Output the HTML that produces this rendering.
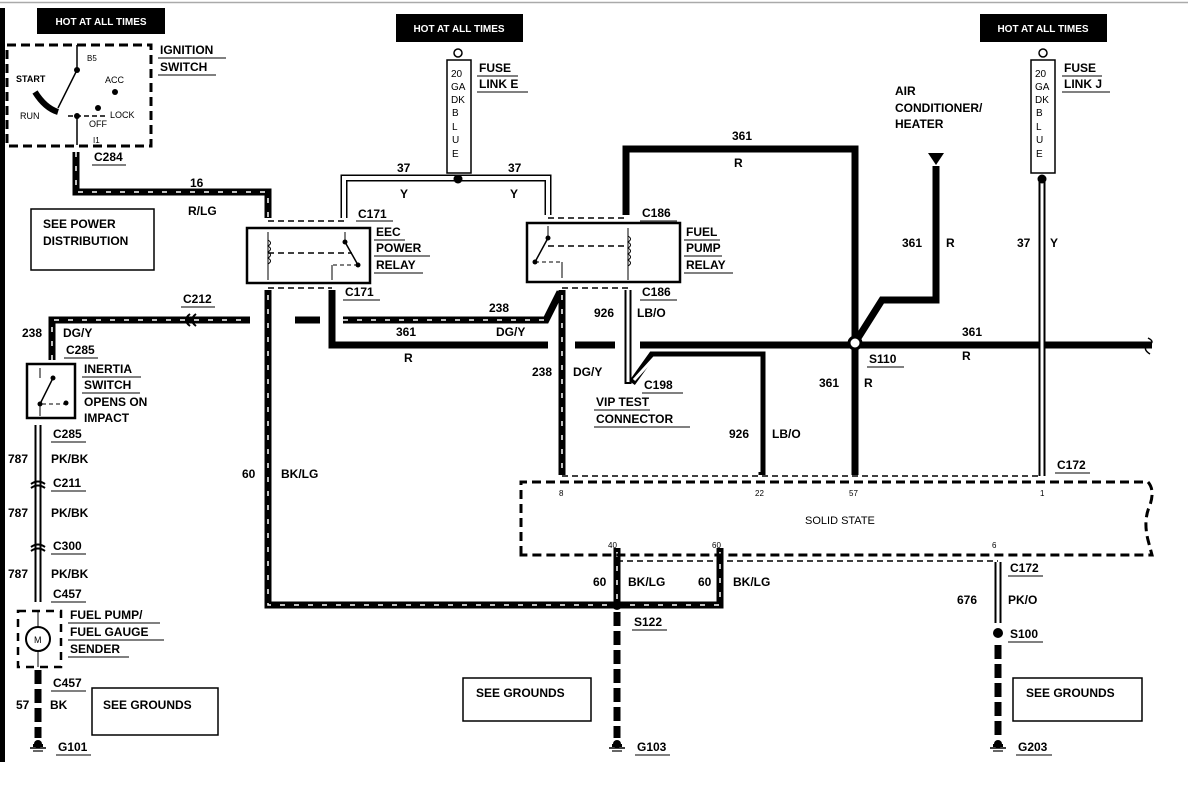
<!DOCTYPE html>
<html><head><meta charset="utf-8"><style>
html,body{margin:0;padding:0;background:#fff;}
svg{display:block;}
text{font-family:"Liberation Sans",Arial,sans-serif;font-weight:bold;fill:#000;}
.s{font-size:12px;}
.t{font-size:8px;font-weight:normal;}
</style></head><body>
<svg width="1188" height="801" viewBox="0 0 1188 801" xmlns="http://www.w3.org/2000/svg">
<defs>
<g id="gnd"><circle cx="0" cy="-3" r="4" fill="#000"/><rect x="-5" y="-3" width="10" height="3" fill="#000"/><line x1="-8" y1="1" x2="8" y2="1" stroke="#000" stroke-width="1.5"/><line x1="-5" y1="4" x2="5" y2="4" stroke="#000" stroke-width="1.2"/></g>
</defs>
<line x1="0" y1="2.5" x2="1188" y2="2.5" stroke="#aaa" stroke-width="1.5"/>
<rect x="0" y="8" width="5" height="754" fill="#000"/>

<rect x="37" y="8" width="128" height="26" fill="#000"/><text x="101" y="25" style="fill:#fff;font-size:10px" text-anchor="middle">HOT AT ALL TIMES</text>
<rect x="396" y="14" width="127" height="28" fill="#000"/><text x="459" y="32" style="fill:#fff;font-size:10px" text-anchor="middle">HOT AT ALL TIMES</text>
<rect x="980" y="14" width="127" height="28" fill="#000"/><text x="1043" y="32" style="fill:#fff;font-size:10px" text-anchor="middle">HOT AT ALL TIMES</text>

<rect x="7" y="45" width="144" height="101" fill="none" stroke="#000" stroke-width="3" stroke-dasharray="9 5"/>
<text x="160" y="54" class="s">IGNITION</text><line x1="158" y1="58" x2="226" y2="58" stroke="#000"/>
<text x="160" y="71" class="s">SWITCH</text><line x1="158" y1="75" x2="216" y2="75" stroke="#000"/>
<line x1="77" y1="45" x2="77" y2="70" stroke="#000" stroke-width="1.5"/><circle cx="77" cy="70" r="3" fill="#000"/>
<line x1="77" y1="70" x2="58" y2="108" stroke="#000" stroke-width="1.5"/>
<path d="M35 92 Q45 108 58 112" stroke="#000" stroke-width="6" fill="none"/>
<line x1="68" y1="116" x2="105" y2="116" stroke="#000" stroke-width="1.5" stroke-dasharray="5 3"/>
<circle cx="77" cy="116" r="3" fill="#000"/><line x1="77" y1="116" x2="77" y2="145" stroke="#000" stroke-width="1.5"/>
<circle cx="98" cy="108" r="3" fill="#000"/><circle cx="115" cy="92" r="3" fill="#000"/>
<text x="87" y="61" class="t">B5</text><text x="16" y="82" style="font-size:9px">START</text>
<text x="105" y="83" class="t" style="font-size:9px">ACC</text><text x="20" y="119" class="t" style="font-size:9px">RUN</text>
<text x="89" y="127" class="t" style="font-size:9px">OFF</text><text x="110" y="118" class="t" style="font-size:9px">LOCK</text>
<text x="93" y="143" class="t">I1</text>
<text x="94" y="161" class="s">C284</text><line x1="92" y1="165" x2="126" y2="165" stroke="#000"/>

<path d="M76 152 L76 192 L268 192 L268 218" fill="none" stroke="#000" stroke-width="7"/>
<path d="M76 152 L76 192 L268 192 L268 218" fill="none" stroke="#fff" stroke-width="1.5" stroke-dasharray="5 9"/>
<text x="190" y="187" class="s">16</text><text x="188" y="215" class="s">R/LG</text>
<rect x="31" y="209" width="123" height="61" fill="none" stroke="#000" stroke-width="1.5"/>
<text x="43" y="228" class="s">SEE POWER</text><text x="43" y="245" class="s">DISTRIBUTION</text>

<line x1="268" y1="221" x2="345" y2="221" stroke="#000" stroke-width="1.5" stroke-dasharray="6 4"/>
<rect x="247" y="228" width="123" height="55" fill="none" stroke="#000" stroke-width="2.5"/>
<line x1="268" y1="232" x2="268" y2="280" stroke="#000"/><path d="M268 240 q5 3 0 6 q5 3 0 6 q5 3 0 6 q5 3 0 6" fill="none" stroke="#000"/>
<line x1="268" y1="253" x2="352" y2="253" stroke="#000" stroke-width="1.5" stroke-dasharray="6 4"/>
<line x1="345" y1="232" x2="345" y2="242" stroke="#000"/><circle cx="345" cy="242" r="2.5" fill="#000"/><line x1="345" y1="242" x2="358" y2="265" stroke="#000" stroke-width="1.5"/><circle cx="358" cy="265" r="2.5" fill="#000"/>
<line x1="333" y1="265" x2="358" y2="265" stroke="#000" stroke-dasharray="4 3"/><line x1="332" y1="265" x2="332" y2="280" stroke="#000"/>
<text x="358" y="218" class="s">C171</text><line x1="356" y1="221" x2="393" y2="221" stroke="#000"/>
<text x="376" y="236" class="s">EEC</text><line x1="374" y1="240" x2="405" y2="240" stroke="#000"/>
<text x="376" y="252" class="s">POWER</text><line x1="374" y1="256" x2="430" y2="256" stroke="#000"/>
<text x="376" y="269" class="s">RELAY</text><line x1="374" y1="273" x2="423" y2="273" stroke="#000"/>
<line x1="268" y1="288" x2="332" y2="288" stroke="#000" stroke-width="1.5" stroke-dasharray="6 4"/>
<text x="345" y="296" class="s">C171</text><line x1="343" y1="300" x2="380" y2="300" stroke="#000"/>

<circle cx="458" cy="53" r="4" fill="none" stroke="#000" stroke-width="1.5"/>
<rect x="447" y="60" width="24" height="113" fill="#fff" stroke="#000" stroke-width="1.5"/>
<text x="451" y="77" class="t" style="font-size:10px">20</text><text x="451" y="90" class="t" style="font-size:10px">GA</text><text x="451" y="103" class="t" style="font-size:10px">DK</text><text x="452" y="116" class="t" style="font-size:10px">B</text><text x="452" y="130" class="t" style="font-size:10px">L</text><text x="452" y="143" class="t" style="font-size:10px">U</text><text x="452" y="157" class="t" style="font-size:10px">E</text>
<text x="479" y="72" class="s">FUSE</text><line x1="477" y1="76" x2="518" y2="76" stroke="#000"/>
<text x="479" y="88" class="s">LINK E</text><line x1="477" y1="92" x2="528" y2="92" stroke="#000"/>
<path d="M344 218 L344 178 L548 178 L548 215" fill="none" stroke="#000" stroke-width="7"/>
<path d="M344 218 L344 178 L548 178 L548 215" fill="none" stroke="#fff" stroke-width="4"/>
<circle cx="458" cy="179" r="4.5" fill="#000"/>
<text x="397" y="172" class="s">37</text><text x="400" y="198" class="s">Y</text>
<text x="508" y="172" class="s">37</text><text x="510" y="198" class="s">Y</text>

<line x1="548" y1="218" x2="628" y2="218" stroke="#000" stroke-width="1.5" stroke-dasharray="6 4"/>
<rect x="527" y="223" width="153" height="59" fill="none" stroke="#000" stroke-width="2.5"/>
<line x1="548" y1="226" x2="548" y2="238" stroke="#000"/><circle cx="548" cy="238" r="2.5" fill="#000"/><line x1="548" y1="238" x2="535" y2="262" stroke="#000" stroke-width="1.5"/><circle cx="535" cy="262" r="2.5" fill="#000"/>
<line x1="535" y1="262" x2="562" y2="262" stroke="#000" stroke-dasharray="4 3"/><line x1="562" y1="262" x2="562" y2="278" stroke="#000"/>
<line x1="548" y1="246" x2="628" y2="246" stroke="#000" stroke-width="1.5" stroke-dasharray="6 4"/>
<line x1="628" y1="228" x2="628" y2="280" stroke="#000"/><path d="M628 236 q5 3 0 6 q5 3 0 6 q5 3 0 6 q5 3 0 6 q5 3 0 6" fill="none" stroke="#000"/>
<text x="642" y="217" class="s">C186</text><line x1="640" y1="221" x2="677" y2="221" stroke="#000"/>
<text x="686" y="236" class="s">FUEL</text><line x1="684" y1="240" x2="720" y2="240" stroke="#000"/>
<text x="686" y="252" class="s">PUMP</text><line x1="684" y1="256" x2="722" y2="256" stroke="#000"/>
<text x="686" y="269" class="s">RELAY</text><line x1="684" y1="273" x2="733" y2="273" stroke="#000"/>
<line x1="562" y1="288" x2="628" y2="288" stroke="#000" stroke-width="1.5" stroke-dasharray="6 4"/>
<text x="642" y="296" class="s">C186</text><line x1="640" y1="300" x2="677" y2="300" stroke="#000"/>

<path d="M626 215 L626 149 L855 149 L855 475" fill="none" stroke="#000" stroke-width="7"/>
<text x="732" y="140" class="s">361</text><text x="734" y="167" class="s">R</text>
<path d="M332 290 L332 345 L548 345 M575 345 L615 345 M640 345 L1152 345" fill="none" stroke="#000" stroke-width="7"/>
<path d="M1148 338 q8 4 0 7 q-6 4 2 9" fill="none" stroke="#000" stroke-width="1.5"/>
<circle cx="855" cy="343" r="6" fill="#fff" stroke="#000" stroke-width="3"/>
<path d="M858 338 L882 300 L936 300 L936 166" fill="none" stroke="#000" stroke-width="7"/>
<polygon points="928,153 944,153 936,165" fill="#000"/>
<text x="895" y="95" class="s">AIR</text><text x="895" y="112" class="s">CONDITIONER/</text><text x="895" y="128" class="s">HEATER</text>
<text x="902" y="247" class="s">361</text><text x="946" y="247" class="s">R</text>
<text x="396" y="336" class="s">361</text><text x="404" y="362" class="s">R</text>
<text x="962" y="336" class="s">361</text><text x="962" y="360" class="s">R</text>
<text x="869" y="363" class="s">S110</text><line x1="867" y1="367" x2="904" y2="367" stroke="#000"/>
<text x="819" y="387" class="s">361</text><text x="864" y="387" class="s">R</text>

<circle cx="1043" cy="53" r="4" fill="none" stroke="#000" stroke-width="1.5"/>
<rect x="1031" y="60" width="24" height="113" fill="#fff" stroke="#000" stroke-width="1.5"/>
<text x="1035" y="77" class="t" style="font-size:10px">20</text><text x="1035" y="90" class="t" style="font-size:10px">GA</text><text x="1035" y="103" class="t" style="font-size:10px">DK</text><text x="1036" y="116" class="t" style="font-size:10px">B</text><text x="1036" y="130" class="t" style="font-size:10px">L</text><text x="1036" y="143" class="t" style="font-size:10px">U</text><text x="1036" y="157" class="t" style="font-size:10px">E</text>
<text x="1064" y="72" class="s">FUSE</text><line x1="1062" y1="76" x2="1102" y2="76" stroke="#000"/>
<text x="1064" y="88" class="s">LINK J</text><line x1="1062" y1="92" x2="1110" y2="92" stroke="#000"/>
<line x1="1042" y1="178" x2="1042" y2="476" stroke="#000" stroke-width="7"/>
<line x1="1042" y1="178" x2="1042" y2="476" stroke="#fff" stroke-width="3"/>
<circle cx="1042" cy="179" r="4.5" fill="#000"/>
<text x="1017" y="247" class="s">37</text><text x="1050" y="247" class="s">Y</text>

<g fill="none" stroke="#000" stroke-width="7">
<path d="M52 360 L52 320 L250 320"/><path d="M295 320 L320 320"/><path d="M343 320 L546 320 L560 292"/>
<path d="M562 290 L562 475"/>
<path d="M268 290 L268 605 L617 605 M617 605 L720 605 L720 548"/>
<path d="M617 548 L617 605"/>
</g>
<g fill="none" stroke="#fff" stroke-width="1.5" stroke-dasharray="5 9">
<path d="M52 360 L52 320 L250 320"/><path d="M343 320 L546 320"/>
<path d="M562 295 L562 472"/><path d="M268 295 L268 605 L720 605 L720 552"/><path d="M617 552 L617 600"/>
</g>
<path d="M196 314 q-8 6 0 12 M190 314 q-8 6 0 12" fill="none" stroke="#000" stroke-width="2"/>
<text x="183" y="303" class="s">C212</text><line x1="181" y1="307" x2="215" y2="307" stroke="#000"/>
<text x="489" y="312" class="s">238</text><text x="496" y="336" class="s">DG/Y</text>
<text x="22" y="337" class="s">238</text><text x="63" y="337" class="s">DG/Y</text>
<text x="66" y="354" class="s">C285</text><line x1="64" y1="358" x2="98" y2="358" stroke="#000"/>
<text x="532" y="376" class="s">238</text><text x="573" y="376" class="s">DG/Y</text>
<text x="242" y="478" class="s">60</text><text x="281" y="478" class="s">BK/LG</text>

<g fill="none" stroke="#000" stroke-width="7"><path d="M628 290 L628 384"/><path d="M632 383 L652 355 L762 355 L762 475"/></g>
<g fill="none" stroke="#fff" stroke-width="3"><path d="M628 290 L628 382"/><path d="M634 380 L654 358 L759 358 L759 472"/></g>
<text x="594" y="317" class="s">926</text><text x="637" y="317" class="s">LB/O</text>
<text x="644" y="389" class="s">C198</text><line x1="642" y1="393" x2="683" y2="393" stroke="#000"/>
<text x="596" y="406" class="s">VIP TEST</text><line x1="594" y1="410" x2="650" y2="410" stroke="#000"/>
<text x="596" y="423" class="s">CONNECTOR</text><line x1="594" y1="427" x2="690" y2="427" stroke="#000"/>
<text x="729" y="438" class="s">926</text><text x="772" y="438" class="s">LB/O</text>

<line x1="562" y1="476" x2="1042" y2="476" stroke="#000" stroke-width="1.5" stroke-dasharray="6 4"/>
<text x="1057" y="469" class="s">C172</text><line x1="1055" y1="473" x2="1090" y2="473" stroke="#000"/>
<path d="M521 555 L521 482 L1148 482 Q1155 490 1150 505 Q1143 520 1148 540 L1152 555 Z" fill="none" stroke="#000" stroke-width="3" stroke-dasharray="9 5"/>
<text x="559" y="496" class="t">8</text><text x="755" y="496" class="t">22</text><text x="849" y="496" class="t">57</text><text x="1040" y="496" class="t">1</text>
<text x="805" y="524" style="font-size:11px;font-weight:normal">SOLID STATE</text>
<text x="608" y="548" class="t">40</text><text x="712" y="548" class="t">60</text><text x="992" y="548" class="t">6</text>
<line x1="617" y1="561" x2="998" y2="561" stroke="#000" stroke-width="1.5" stroke-dasharray="6 4"/>
<text x="593" y="586" class="s">60</text><text x="628" y="586" class="s">BK/LG</text>
<text x="698" y="586" class="s">60</text><text x="733" y="586" class="s">BK/LG</text>
<circle cx="617" cy="605" r="5" fill="#000"/>
<text x="634" y="626" class="s">S122</text><line x1="632" y1="630" x2="667" y2="630" stroke="#000"/>
<line x1="617" y1="612" x2="617" y2="738" stroke="#000" stroke-width="7" stroke-dasharray="14 5"/>
<use href="#gnd" x="617" y="747"/><text x="637" y="751" class="s">G103</text><line x1="635" y1="755" x2="670" y2="755" stroke="#000"/>
<rect x="463" y="678" width="128" height="43" fill="none" stroke="#000" stroke-width="1.5"/><text x="476" y="697" class="s">SEE GROUNDS</text>

<line x1="998" y1="562" x2="998" y2="623" stroke="#000" stroke-width="7"/><line x1="998" y1="562" x2="998" y2="623" stroke="#fff" stroke-width="3"/>
<text x="1010" y="572" class="s">C172</text><line x1="1008" y1="576" x2="1043" y2="576" stroke="#000"/>
<text x="957" y="604" class="s">676</text><text x="1008" y="604" class="s">PK/O</text>
<circle cx="998" cy="633" r="5" fill="#000"/>
<text x="1010" y="638" class="s">S100</text><line x1="1008" y1="642" x2="1043" y2="642" stroke="#000"/>
<line x1="998" y1="645" x2="998" y2="738" stroke="#000" stroke-width="7" stroke-dasharray="14 5"/>
<use href="#gnd" x="998" y="747"/><text x="1018" y="751" class="s">G203</text><line x1="1016" y1="755" x2="1052" y2="755" stroke="#000"/>
<rect x="1013" y="678" width="129" height="43" fill="none" stroke="#000" stroke-width="1.5"/><text x="1026" y="697" class="s">SEE GROUNDS</text>

<rect x="27" y="364" width="48" height="54" fill="none" stroke="#000" stroke-width="2.5"/>
<line x1="40" y1="368" x2="40" y2="378" stroke="#000"/><circle cx="53" cy="378" r="2.5" fill="#000"/><line x1="53" y1="378" x2="40" y2="404" stroke="#000" stroke-width="1.5"/><circle cx="40" cy="404" r="2.5" fill="#000"/><line x1="42" y1="404" x2="66" y2="404" stroke="#000" stroke-dasharray="4 3"/><circle cx="66" cy="403" r="2.5" fill="#000"/><line x1="40" y1="404" x2="40" y2="416" stroke="#000"/>
<text x="84" y="373" class="s">INERTIA</text><line x1="82" y1="377" x2="141" y2="377" stroke="#000"/>
<text x="84" y="389" class="s">SWITCH</text><line x1="82" y1="393" x2="140" y2="393" stroke="#000"/>
<text x="84" y="406" class="s">OPENS ON</text><text x="84" y="422" class="s">IMPACT</text>
<line x1="38" y1="425" x2="38" y2="602" stroke="#000" stroke-width="7"/><line x1="38" y1="425" x2="38" y2="602" stroke="#fff" stroke-width="3"/>
<path d="M31 484 q7 -5 14 0 M31 488 q7 -5 14 0 M31 547 q7 -5 14 0 M31 551 q7 -5 14 0" fill="none" stroke="#000" stroke-width="2"/>
<text x="53" y="438" class="s">C285</text><line x1="51" y1="442" x2="86" y2="442" stroke="#000"/>
<text x="8" y="463" class="s">787</text><text x="51" y="463" class="s">PK/BK</text>
<text x="53" y="487" class="s">C211</text><line x1="51" y1="491" x2="86" y2="491" stroke="#000"/>
<text x="8" y="517" class="s">787</text><text x="51" y="517" class="s">PK/BK</text>
<text x="53" y="550" class="s">C300</text><line x1="51" y1="554" x2="86" y2="554" stroke="#000"/>
<text x="8" y="578" class="s">787</text><text x="51" y="578" class="s">PK/BK</text>
<text x="53" y="598" class="s">C457</text><line x1="51" y1="602" x2="86" y2="602" stroke="#000"/>
<rect x="18" y="611" width="43" height="56" fill="none" stroke="#000" stroke-width="2.5" stroke-dasharray="8 6"/>
<line x1="38" y1="611" x2="38" y2="667" stroke="#000"/>
<circle cx="38" cy="639" r="12" fill="#fff" stroke="#000" stroke-width="2"/><text x="34" y="643" style="font-size:9px;font-weight:normal">M</text>
<text x="70" y="619" class="s">FUEL PUMP/</text><line x1="68" y1="623" x2="160" y2="623" stroke="#000"/>
<text x="70" y="636" class="s">FUEL GAUGE</text><line x1="68" y1="640" x2="164" y2="640" stroke="#000"/>
<text x="70" y="653" class="s">SENDER</text><line x1="68" y1="657" x2="129" y2="657" stroke="#000"/>
<line x1="38" y1="670" x2="38" y2="738" stroke="#000" stroke-width="7" stroke-dasharray="14 5"/>
<text x="53" y="687" class="s">C457</text><line x1="51" y1="691" x2="86" y2="691" stroke="#000"/>
<text x="16" y="709" class="s">57</text><text x="50" y="709" class="s">BK</text>
<rect x="92" y="688" width="126" height="47" fill="none" stroke="#000" stroke-width="1.5"/><text x="103" y="709" class="s">SEE GROUNDS</text>
<use href="#gnd" x="38" y="747"/><text x="58" y="751" class="s">G101</text><line x1="56" y1="755" x2="91" y2="755" stroke="#000"/>
</svg>
</body></html>
